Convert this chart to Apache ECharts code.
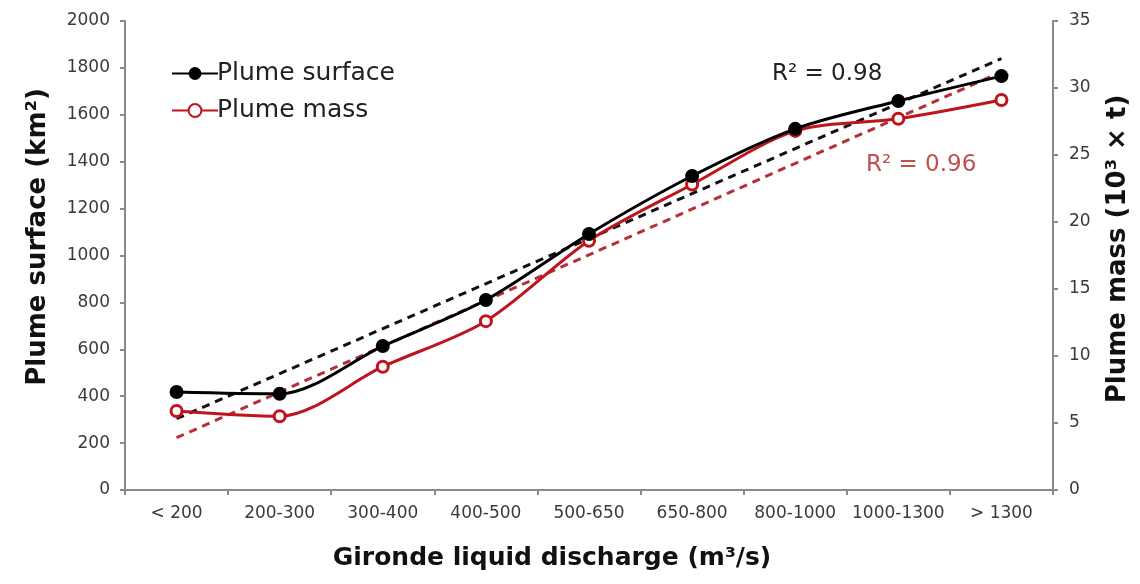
<!DOCTYPE html>
<html><head><meta charset="utf-8">
<script src="https://cdn.jsdelivr.net/npm/echarts@6/dist/echarts.min.js"></script>
<style>html,body{margin:0;padding:0;background:#fff}#c{width:1140px;height:584px}</style>
</head><body><div id="c"></div>
<script>
const categories = ['< 200','200-300','300-400','400-500','500-650','650-800','800-1000','1000-1300','> 1300'];
const plumeSurface = [418, 410, 614, 810, 1092, 1339, 1540, 1659, 1765];
const plumeMass = [5.9, 5.5, 9.2, 12.6, 18.6, 22.8, 26.8, 27.7, 29.1];
const surfaceTrend = [304, null, null, null, null, null, null, null, 1840];
const massTrend = [3.9, null, null, null, null, null, null, null, 31.2];
const leftTicks = [0, 2000, 200];
const rightTicks = [0, 35, 5];

const FONT = 'DejaVu Sans';
const chart = echarts.init(document.getElementById('c'));
const axisLine = {show: true, lineStyle: {color: '#8a8a8a', width: 2}};
const tickLabel = {fontSize: 17, color: '#3a3a3a', fontFamily: FONT, formatter: v => String(v)};
const titleFont = 'bold 26px "DejaVu Sans"';
chart.setOption({
  animation: false,
  textStyle: {fontFamily: FONT},
  grid: {left: 125, right: 87, top: 21, bottom: 94},
  legend: {
    orient: 'vertical', left: 166, top: 56, itemGap: 12, itemWidth: 46, itemHeight: 16,
    textStyle: {fontSize: 25, color: '#222', fontFamily: FONT, padding: [0,0,0,-6]},
    data: ['Plume surface', 'Plume mass']
  },
  xAxis: {
    type: 'category', data: categories, boundaryGap: true,
    axisLine: axisLine,
    axisTick: {show: true, length: 5, lineStyle: {color: '#8a8a8a', width: 2}},
    axisLabel: {fontSize: 17, color: '#3a3a3a', fontFamily: FONT, margin: 15, interval: 0}
  },
  yAxis: [{
    type: 'value', min: leftTicks[0], max: leftTicks[1], interval: leftTicks[2],
    axisLine: axisLine,
    axisTick: {show: true, length: 5, lineStyle: {color: '#8a8a8a', width: 2}},
    splitLine: {show: false},
    axisLabel: Object.assign({margin: 15}, tickLabel)
  }, {
    type: 'value', min: rightTicks[0], max: rightTicks[1], interval: rightTicks[2],
    position: 'right',
    axisLine: axisLine,
    axisTick: {show: true, length: 5, lineStyle: {color: '#8a8a8a', width: 2}},
    splitLine: {show: false},
    axisLabel: Object.assign({margin: 16}, tickLabel)
  }],
  series: [{
    name: 'Surface trend', type: 'line', data: surfaceTrend, connectNulls: true,
    symbol: 'none', lineStyle: {color: '#111', width: 3, type: [8, 6]}, z: 1, silent: true
  }, {
    name: 'Mass trend', type: 'line', yAxisIndex: 1, data: massTrend, connectNulls: true,
    symbol: 'none', lineStyle: {color: '#b3303a', width: 3, type: [8, 6]}, z: 1, silent: true
  }, {
    name: 'Plume mass', type: 'line', yAxisIndex: 1, data: plumeMass, smooth: 0.3,
    symbol: 'circle', symbolSize: 11,
    itemStyle: {color: '#fff', borderColor: '#c0141c', borderWidth: 3},
    lineStyle: {color: '#c0141c', width: 3}, z: 3
  }, {
    name: 'Plume surface', type: 'line', data: plumeSurface, smooth: 0.3,
    symbol: 'circle', symbolSize: 14,
    itemStyle: {color: '#000'},
    lineStyle: {color: '#000', width: 3}, z: 4
  }],
  graphic: [
    {type: 'text', x: 772, y: 74, style: {text: 'R² = 0.98', font: '23px "DejaVu Sans"', fill: '#222', verticalAlign: 'middle'}},
    {type: 'text', x: 866, y: 165, style: {text: 'R² = 0.96', font: '23px "DejaVu Sans"', fill: '#c0504d', verticalAlign: 'middle'}},
    {type: 'text', x: 38, y: 237, rotation: Math.PI / 2, style: {text: 'Plume surface (km²)', font: titleFont, fill: '#111', align: 'center', verticalAlign: 'middle'}},
    {type: 'text', x: 1118, y: 249, rotation: Math.PI / 2, style: {text: 'Plume mass (10³ × t)', font: titleFont, fill: '#111', align: 'center', verticalAlign: 'middle'}},
    {type: 'text', x: 552, y: 558, style: {text: 'Gironde liquid discharge (m³/s)', font: 'bold 25px "DejaVu Sans"', fill: '#111', align: 'center', verticalAlign: 'middle'}}
  ]
});
</script></body></html>
